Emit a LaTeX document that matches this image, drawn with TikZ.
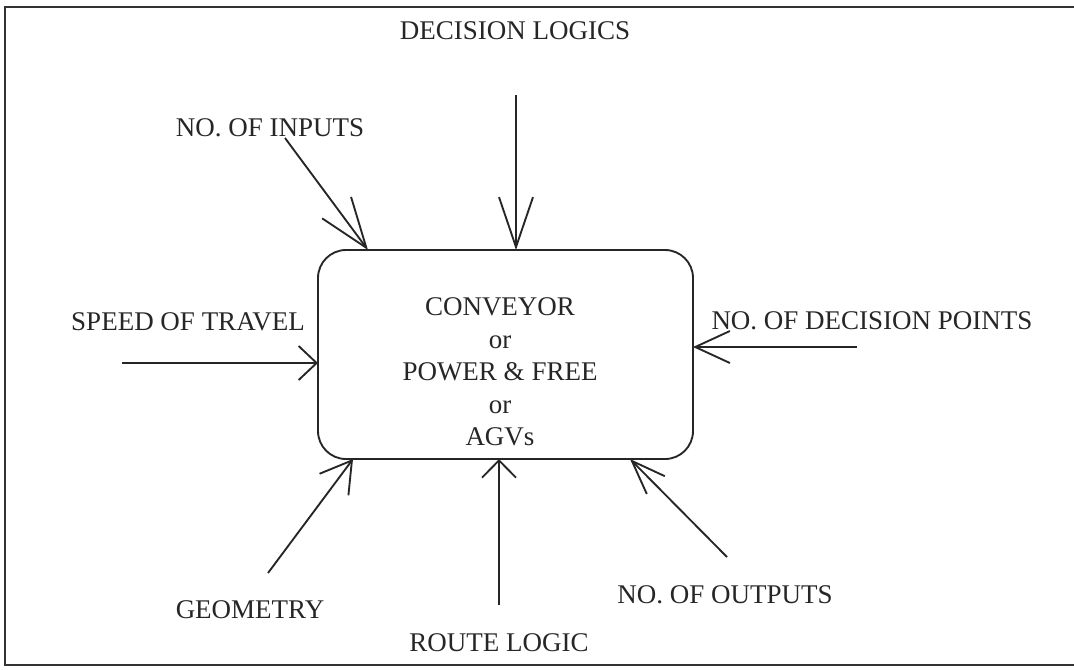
\documentclass[tikz,border=0pt]{standalone}
\usepackage{fontspec}
\setmainfont{Liberation Serif}
\usetikzlibrary{arrows.meta,calc}
\begin{document}
\begin{tikzpicture}[x=0.75pt,y=-0.75pt,
  lbl/.style={font=\fontsize{20.25}{24.3}\selectfont, inner sep=0pt, text=black!85},
  feed/.style 2 args={line width=1.4pt, black!85,
    -{Straight Barb[length=#1, width=#2]}},
  hub/.style={draw=black!85, line width=1.4pt, rounded corners=21pt,
    minimum width=281.25pt, minimum height=156.75pt, inner sep=0pt, outer sep=0pt}]
\useasboundingbox (0,0) rectangle (1074,669);

% open frame (top, left and bottom edges)
\draw[line width=1.5pt, black!80] (1074,7) -- (5,7) -- (5,665) -- (1074,665);

% central block
\node[hub] (box) at (505.5,354.5) {};
\node[lbl, align=center] (kinds) at (500,372)
  {CONVEYOR\\or\\POWER \& FREE\\or\\AGVs};

% factor labels
\node[lbl] (dl) at (515,31)  {DECISION LOGICS};
\node[lbl] (ni) at (270,128) {NO. OF INPUTS};
\node[lbl] (sp) at (188,322) {SPEED OF TRAVEL};
\node[lbl] (dp) at (872,321) {NO. OF DECISION POINTS};
\node[lbl] (ge) at (250,610) {GEOMETRY};
\node[lbl] (rl) at (499,643) {ROUTE LOGIC};
\node[lbl] (no) at (725,595) {NO. OF OUTPUTS};

% arrow tails
\coordinate (dlT) at (516,95);
\coordinate (niT) at (285,138);
\coordinate (spT) at (122,363);
\coordinate (dpT) at (857,347);
\coordinate (geT) at (268,573);
\coordinate (rlT) at (499,605);
\coordinate (noT) at (727,557);

% arrows into the block
\draw[feed={37.5pt}{25.5pt}] (dlT) -- ($(box.north west)+(198,0)$);
\draw[feed={37.5pt}{27pt}]   (niT) -- ($(box.north west)+(50,0)$);
\draw[feed={13.5pt}{25.5pt}] (spT) -- ($(box.north west)+(0,113)$);
\draw[feed={26pt}{24pt}]     (dpT) -- ($(box.north east)+(0,97)$);
\draw[feed={22.5pt}{27pt}]   (geT) -- ($(box.south west)+(35,0)$);
\draw[feed={13pt}{25.5pt}]   (rlT) -- ($(box.south west)+(181,0)$);
\draw[feed={25.5pt}{19pt}]   (noT) -- ($(box.south west)+(312,0)$);
\end{tikzpicture}
\end{document}
